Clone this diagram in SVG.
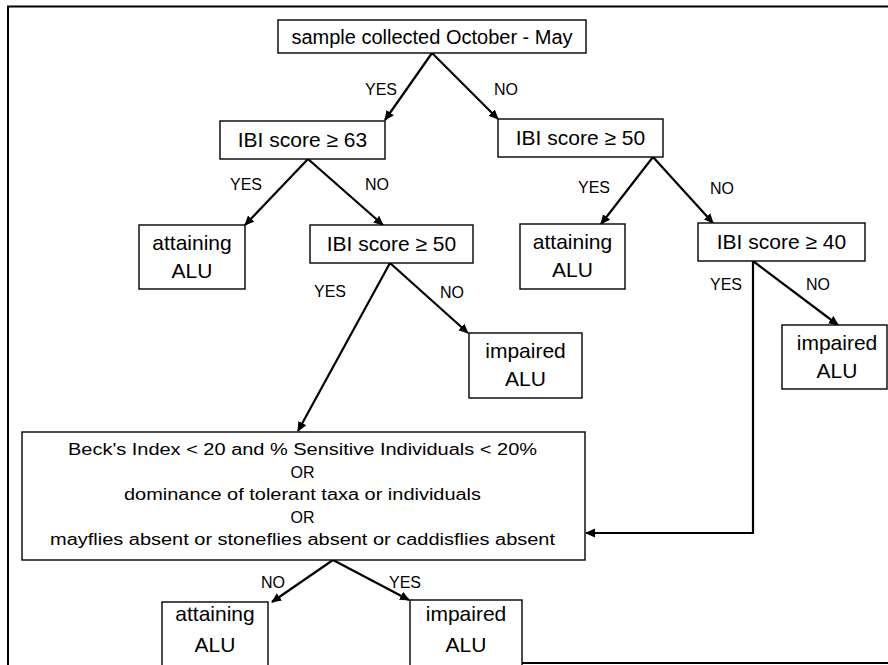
<svg xmlns="http://www.w3.org/2000/svg" width="888" height="665" viewBox="0 0 888 665">
<defs>
<marker id="ah" viewBox="0 0 10 10" refX="9" refY="5" markerWidth="10" markerHeight="10" markerUnits="userSpaceOnUse" orient="auto">
<path d="M0,0.5 L10,5 L0,9.5 z" fill="#000"/>
</marker>
<style>
.box{fill:#fff;stroke:#000;stroke-width:1.4}
.t{font-family:"Liberation Sans",Arial,sans-serif;font-size:21px;fill:#000;text-anchor:middle}
.b{font-family:"Liberation Sans",Arial,sans-serif;font-size:16px;fill:#000;text-anchor:middle}
.lbl{font-family:"Liberation Sans",Arial,sans-serif;font-size:16px;fill:#000;text-anchor:middle}
.c{fill:none;stroke:#000;stroke-width:2.2;marker-end:url(#ah)}
.frame{fill:none;stroke:#000;stroke-width:2}
</style>
</defs>
<rect width="888" height="665" fill="#fff"/>
<g id="frame">
<path class="frame" d="M8,665 L8,6.5 L888,6.5"/>
<path class="frame" d="M522,663 L888,663"/>
</g>
<g id="connectors">
<line class="c" x1="432" y1="53" x2="385" y2="120"/>
<line class="c" x1="432" y1="53" x2="498" y2="119"/>
<line class="c" x1="308" y1="159" x2="245" y2="225"/>
<line class="c" x1="308" y1="159" x2="383" y2="225"/>
<line class="c" x1="653" y1="157" x2="601" y2="224"/>
<line class="c" x1="653" y1="157" x2="713" y2="223"/>
<line class="c" x1="390" y1="263" x2="298" y2="431"/>
<line class="c" x1="390" y1="263" x2="468" y2="333"/>
<line class="c" x1="753" y1="261" x2="838" y2="325"/>
<path class="c" d="M753,261 L753,533 L586,533"/>
<line class="c" x1="333" y1="560" x2="272" y2="602"/>
<line class="c" x1="333" y1="560" x2="409" y2="600"/>
<text class="lbl" x="381" y="95">YES</text>
<text class="lbl" x="506" y="95">NO</text>
<text class="lbl" x="246" y="190">YES</text>
<text class="lbl" x="377" y="190">NO</text>
<text class="lbl" x="594" y="193">YES</text>
<text class="lbl" x="722" y="194">NO</text>
<text class="lbl" x="330" y="297">YES</text>
<text class="lbl" x="452" y="298">NO</text>
<text class="lbl" x="726" y="290">YES</text>
<text class="lbl" x="818" y="290">NO</text>
<text class="lbl" x="273" y="588">NO</text>
<text class="lbl" x="405" y="588">YES</text>
</g>
<g id="n-start">
<rect class="box" x="278" y="20" width="308" height="33"/>
<text class="t" x="432" y="44" style="font-size:20px">sample collected October - May</text>
</g>
<g id="n-ibi63">
<rect class="box" x="220" y="121" width="165" height="38"/>
<text class="t" x="302.5" y="147">IBI score ≥ 63</text>
</g>
<g id="n-ibi50a">
<rect class="box" x="498" y="119" width="165" height="38"/>
<text class="t" x="580.5" y="145">IBI score ≥ 50</text>
</g>
<g id="n-attain1">
<rect class="box" x="139" y="225" width="106" height="64"/>
<text class="t" x="192" y="250">attaining</text>
<text class="t" x="192" y="278">ALU</text>
</g>
<g id="n-ibi50b">
<rect class="box" x="310" y="225" width="163" height="38"/>
<text class="t" x="391.5" y="251">IBI score ≥ 50</text>
</g>
<g id="n-attain2">
<rect class="box" x="520" y="224" width="105" height="65"/>
<text class="t" x="572.5" y="249">attaining</text>
<text class="t" x="572.5" y="277">ALU</text>
</g>
<g id="n-ibi40">
<rect class="box" x="698" y="223" width="167" height="38"/>
<text class="t" x="781.5" y="249">IBI score ≥ 40</text>
</g>
<g id="n-impaired1">
<rect class="box" x="469" y="333" width="113" height="65"/>
<text class="t" x="525.5" y="358">impaired</text>
<text class="t" x="525.5" y="386">ALU</text>
</g>
<g id="n-impaired2">
<rect class="box" x="782" y="325" width="105" height="64"/>
<text class="t" x="837" y="350">impaired</text>
<text class="t" x="837" y="378">ALU</text>
</g>
<g id="n-criteria">
<rect class="box" x="22" y="432" width="563" height="128"/>
<text class="b" x="302.5" y="455" textLength="469" lengthAdjust="spacingAndGlyphs">Beck's Index &lt; 20 and % Sensitive Individuals &lt; 20%</text>
<text class="b" x="302.5" y="478">OR</text>
<text class="b" x="302.5" y="500" textLength="357" lengthAdjust="spacingAndGlyphs">dominance of tolerant taxa or individuals</text>
<text class="b" x="302.5" y="523">OR</text>
<text class="b" x="302.5" y="545" textLength="505" lengthAdjust="spacingAndGlyphs">mayflies absent or stoneflies absent or caddisflies absent</text>
</g>
<g id="n-attain3">
<rect class="box" x="162" y="602" width="106" height="70"/>
<text class="t" x="215" y="621">attaining</text>
<text class="t" x="215" y="652">ALU</text>
</g>
<g id="n-impaired3">
<rect class="box" x="410" y="600" width="112" height="72"/>
<text class="t" x="466" y="621">impaired</text>
<text class="t" x="466" y="652">ALU</text>
</g>
</svg>
